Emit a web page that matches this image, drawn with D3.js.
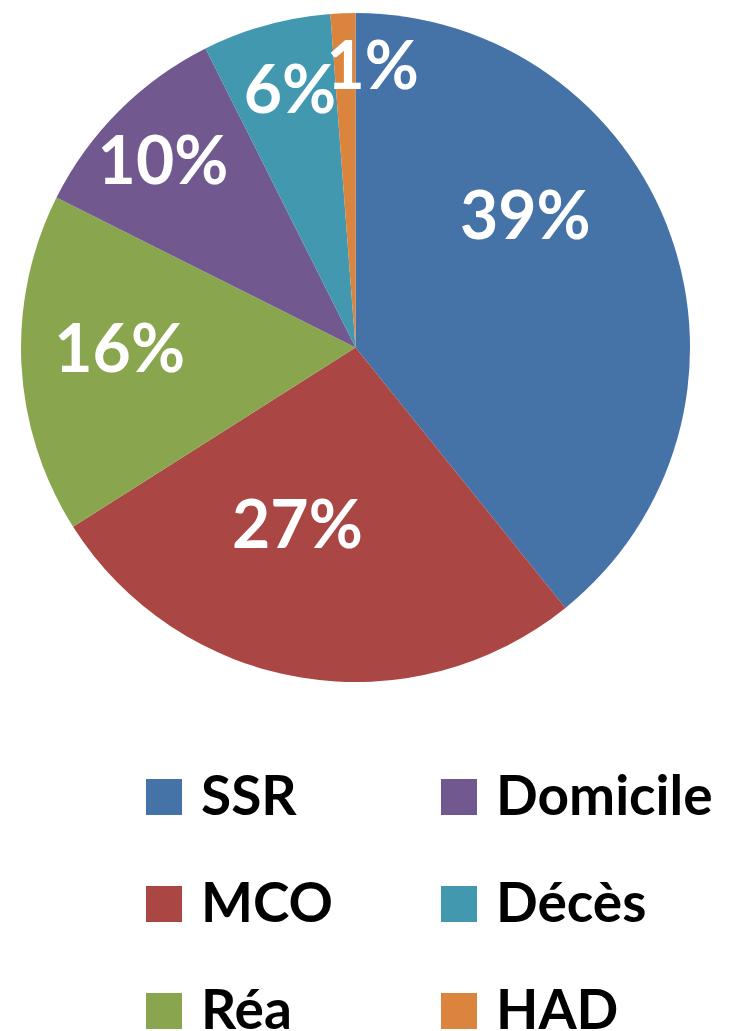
<!DOCTYPE html>
<html>
<head>
<meta charset="utf-8">
<script src="https://cdn.jsdelivr.net/npm/d3@7"></script>
<style>
html,body{margin:0;padding:0;background:#fff;}
svg{display:block;}
</style>
</head>
<body>
<svg id="chart" width="731" height="1031"></svg>
<script>
// ---- data ----
const categories = ["SSR", "MCO", "Réa", "Domicile", "Décès", "HAD"];
const values = [39.2, 26.8, 16.4, 10.2, 6.2, 1.2];
const labels = ["39%", "27%", "16%", "10%", "6%", "1%"];
const colors = ["#4572A7", "#AA4643", "#89A54E", "#71588F", "#4198AF", "#DB843D"];
// legend order (two columns)
const legendOrder = ["SSR", "MCO", "Réa", "Domicile", "Décès", "HAD"];

// ---- layout ----
const W = 731, H = 1031;
const cx = 355.5, cy = 347.5, R = 334.5;
const labelR = 0.70 * R;
// best-fit nudges for labels (layout)
const nudge = {
  "SSR": [-51, -54], "MCO": [-20, -54], "Réa": [-2, -11],
  "Domicile": [-27, -22], "Décès": [-3, -33], "HAD": [26, -48]
};
const FONT = "Lato, 'Open Sans', sans-serif";

const svg = d3.select("#chart");
const color = d3.scaleOrdinal().domain(categories).range(colors);

const data = categories.map((c, i) => ({cat: c, value: values[i], label: labels[i]}));
const pie = d3.pie().sort(null).value(d => d.value);
const arcs = pie(data);
const arc = d3.arc().innerRadius(0).outerRadius(R);
const labelArc = d3.arc().innerRadius(labelR).outerRadius(labelR);

const g = svg.append("g").attr("transform", `translate(${cx},${cy})`);
g.selectAll("path.slice").data(arcs).join("path")
  .attr("class", "slice")
  .attr("d", arc)
  .attr("fill", d => color(d.data.cat));

g.selectAll("text.lbl").data(arcs).join("text")
  .attr("class", "lbl")
  .attr("transform", d => {
    const [x, y] = labelArc.centroid(d);
    const n = nudge[d.data.cat];
    return `translate(${x + n[0]},${y + n[1]})`;
  })
  .attr("text-anchor", "middle")
  .attr("dy", "0.36em")
  .attr("fill", "#fff")
  .attr("font-family", FONT)
  .attr("font-weight", 700)
  .attr("font-size", 66)
  .text(d => d.data.label);

// ---- legend ----
const rowStep = 107;
const colX = [146, 441];
const rowY0 = 779;
const sq = 36;
const leg = svg.append("g");
legendOrder.forEach((c, i) => {
  const col = Math.floor(i / 3), row = i % 3;
  const x = colX[col], y = rowY0 + row * rowStep;
  leg.append("rect").attr("x", x).attr("y", y).attr("width", sq).attr("height", sq)
    .attr("fill", color(c));
  leg.append("text").attr("x", x + sq + 19).attr("y", y + sq)
    .attr("font-family", FONT).attr("font-weight", 700).attr("font-size", 55)
    .attr("fill", "#000")
    .text(c);
});
</script>
</body>
</html>
